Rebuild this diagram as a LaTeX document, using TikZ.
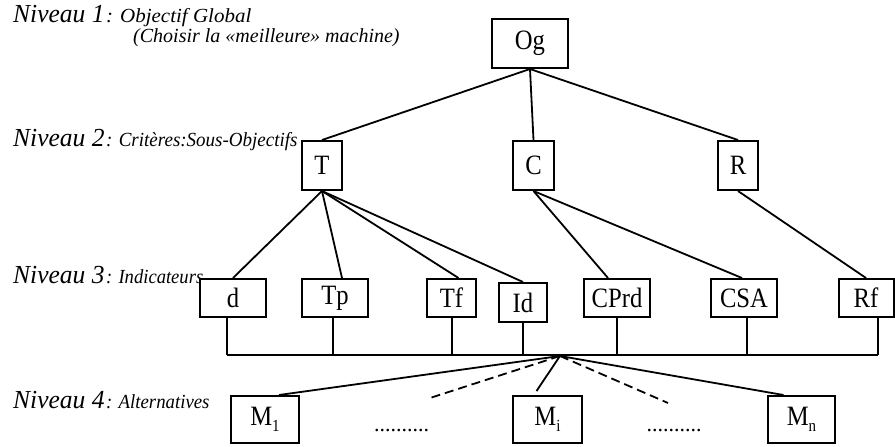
\documentclass[tikz,border=0pt]{standalone}
\usepackage{fontspec}
\setmainfont{Liberation Serif}
\usetikzlibrary{calc}
% box labels, slightly condensed
\newcommand{\narrowlbl}[1]{\scalebox{0.88}[1]{#1}}
\newcommand{\sublbl}[1]{\raisebox{-0.22em}{\fontsize{17}{17}\selectfont #1}}
% level captions: large level name, smaller description
\newcommand{\lvlname}[1]{\scalebox{0.98}[1]{\fontsize{26}{26}\selectfont\itshape #1}}
\newcommand{\lvldesc}[2]{\scalebox{#1}[1]{\fontsize{20}{20}\selectfont\itshape #2}}
\tikzset{
  box/.style={draw, line width=2pt, fill=white, inner sep=0pt, minimum height=38pt,
              font=\fontsize{28}{28}\selectfont},
  link/.style={line width=1.8pt},
  dlink/.style={line width=1.8pt, dash pattern=on 9pt off 5pt},
  lvl/.style={anchor=base west, inner sep=0pt},
  dots/.style={inner sep=0pt, anchor=base, font=\fontsize{22}{22}\selectfont}
}
\begin{document}
\begin{tikzpicture}[x=1pt, y=-1pt]
\useasboundingbox (0,0) rectangle (895,447);

% level labels
\node[lvl] (n1) at (13,23) {\lvlname{Niveau 1}\,\lvldesc{1.05}{: Objectif Global}};
\node[lvl] (n1b) at (133,42) {\lvldesc{1.0}{(Choisir la «meilleure» machine)}};
\node[lvl] (n2) at (13,146) {\lvlname{Niveau 2}\,\lvldesc{0.95}{: Critères:Sous-Objectifs}};
\node[lvl] (n3) at (13,283) {\lvlname{Niveau 3}\,\lvldesc{0.93}{: Indicateurs}};
\node[lvl] (n4) at (13,408) {\lvlname{Niveau 4}\,\lvldesc{0.94}{: Alternatives}};

% level 1
\node[box, minimum width=76pt, minimum height=49pt] (Og) at (530,43.5) {\narrowlbl{Og}};

% level 2
\node[box, minimum width=40pt, minimum height=49pt] (T) at (322,165.5) {\narrowlbl{T}};
\node[box, minimum width=41pt, minimum height=49pt] (C) at (533.5,165.5) {\narrowlbl{C}};
\node[box, minimum width=40pt, minimum height=49pt] (R) at (738,165.5) {\narrowlbl{R}};

% level 3
\node[box, minimum width=66pt] (d) at (233,298) {\narrowlbl{d}};
\node[box, minimum width=66pt] (Tp) at (335,298) {\narrowlbl{Tp}};
\node[box, minimum width=49pt] (Tf) at (451.5,298) {\narrowlbl{Tf}};
\node[box, minimum width=48pt, minimum height=39pt] (Id) at (523,302.5) {\narrowlbl{Id}};
\node[box, minimum width=66pt] (CPrd) at (617,298) {\narrowlbl{CPrd}};
\node[box, minimum width=66pt] (CSA) at (744,298) {\narrowlbl{CSA}};
\node[box, minimum width=55pt] (Rf) at (866,298) {\narrowlbl{Rf}};

% level 4
\node[box, minimum width=68pt, minimum height=47pt] (M1) at (265,419.5) {\narrowlbl{M\sublbl{1}}};
\node[box, minimum width=69pt, minimum height=47pt] (Mi) at (547.5,419.5) {\narrowlbl{M\sublbl{i}}};
\node[box, minimum width=67pt, minimum height=47pt] (Mn) at (801.5,419.5) {\narrowlbl{M\sublbl{n}}};
\node[dots] (dotsL) at (401.5,431) {..........};
\node[dots] (dotsR) at (674,431) {..........};

% tree links
\draw[link] (Og.south) -- (T.north);
\draw[link] (Og.south) -- (C.north);
\draw[link] (Og.south) -- (R.north);
\draw[link] (T.south) -- (d.north);
\draw[link] (T.south) -- ([xshift=7pt]Tp.north);
\draw[link] (T.south) -- ([xshift=7pt]Tf.north);
\draw[link] (T.south) -- (Id.north);
\draw[link] (C.south) -- ([xshift=-9pt]CPrd.north);
\draw[link] (C.south) -- ([xshift=-2pt]CSA.north);
\draw[link] (R.south) -- (Rf.north);

% collecting bus
\coordinate (bus) at (560,355);
\coordinate (hub) at (560,356);
\draw[link] ([xshift=-6pt]d.south) -- ([xshift=-6pt]d.south |- bus);
\draw[link] ([xshift=-2pt]Tp.south) -- ([xshift=-2pt]Tp.south |- bus);
\draw[link] ([xshift=0.5pt]Tf.south) -- ([xshift=0.5pt]Tf.south |- bus);
\draw[link] (Id.south) -- (Id.south |- bus);
\draw[link] (CPrd.south) -- (CPrd.south |- bus);
\draw[link] ([xshift=3pt]CSA.south) -- ([xshift=3pt]CSA.south |- bus);
\draw[link] ([xshift=12pt]Rf.south) -- ([xshift=12pt]Rf.south |- bus);
\draw[link] ([xshift=-6pt]d.south |- bus) -- ([xshift=12pt]Rf.south |- bus);

% alternatives
\coordinate (dl) at (430,398);
\coordinate (dr) at (668,403);
\draw[link] (hub) -- ([xshift=14pt]M1.north);
\draw[link] (hub) -- ([xshift=-11pt,yshift=4pt]Mi.north);
\draw[link] (hub) -- ([xshift=-18pt]Mn.north);
\draw[dlink] (hub) -- (dl);
\draw[dlink] (hub) -- (dr);
\end{tikzpicture}
\end{document}
